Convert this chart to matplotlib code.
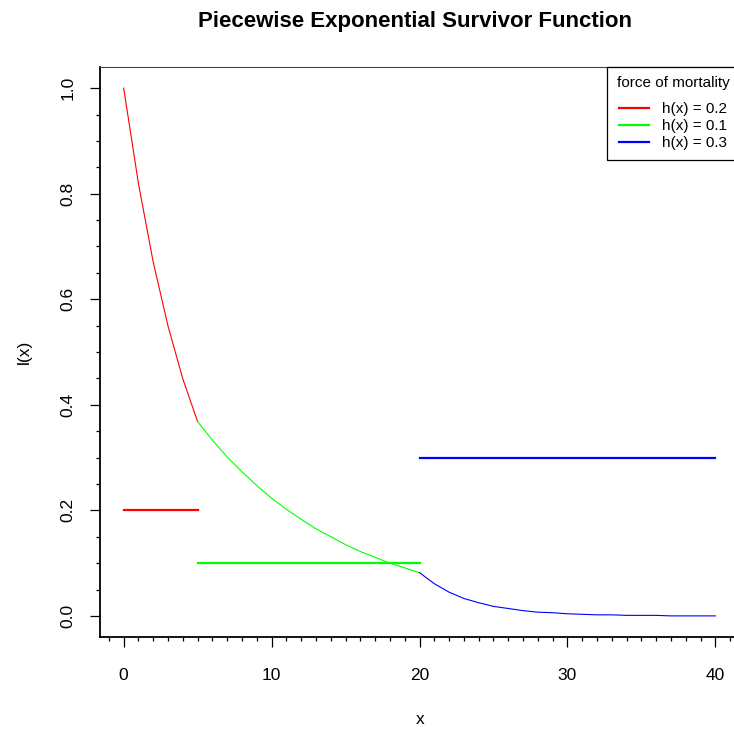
import matplotlib
matplotlib.use("Agg")
import matplotlib.pyplot as plt
from matplotlib.ticker import MultipleLocator

plt.rcParams['font.family'] = ['Liberation Sans', 'DejaVu Sans']

# survivor function l(x), read at whole ages, one piece per hazard
x_red = [0, 1, 2, 3, 4, 5]
l_red = [1.000, 0.819, 0.670, 0.549, 0.449, 0.368]
x_green = [5, 6, 7, 8, 9, 10, 11, 12, 13, 14, 15, 16, 17, 18, 19, 20]
l_green = [0.368, 0.333, 0.301, 0.273, 0.247, 0.223, 0.202, 0.183, 0.165,
           0.150, 0.135, 0.122, 0.111, 0.100, 0.091, 0.082]
x_blue = [20, 21, 22, 23, 24, 25, 26, 27, 28, 29, 30,
          31, 32, 33, 34, 35, 36, 37, 38, 39, 40]
l_blue = [0.082, 0.061, 0.045, 0.033, 0.025, 0.018, 0.014, 0.010, 0.007, 0.006,
          0.004, 0.003, 0.002, 0.002, 0.001, 0.001, 0.001, 0.000, 0.000, 0.000, 0.000]

# force of mortality on each interval
breaks = [0, 5, 20, 40]
hazards = [0.2, 0.1, 0.3]
colors = ['#FF0000', '#00FF00', '#0000FF']
labels = ['h(x) = 0.2', 'h(x) = 0.1', 'h(x) = 0.3']

fig = plt.figure(figsize=(7.34, 7.29), dpi=100)
# plot region runs a bit past the right edge, like the original
ax = fig.add_axes([100 / 734, 92 / 729, 639 / 734, 570 / 729])

for xs, ls, c in zip([x_red, x_green, x_blue], [l_red, l_green, l_blue], colors):
    ax.plot(xs, ls, color=c, lw=0.8)

for i in range(3):
    ax.plot([breaks[i], breaks[i + 1]], [hazards[i], hazards[i]],
            color=colors[i], lw=1.6, label=labels[i])

ax.set_xlim(-1.6, 41.6)
ax.set_ylim(-0.04, 1.04)
ax.xaxis.set_major_locator(MultipleLocator(10))
ax.xaxis.set_minor_locator(MultipleLocator(1))
ax.yaxis.set_major_locator(MultipleLocator(0.2))
ax.yaxis.set_minor_locator(MultipleLocator(0.05))
ax.yaxis.set_major_formatter(plt.FuncFormatter(lambda v, p: f"{v:.1f}"))

ax.tick_params(which='major', length=7.5, width=0.9, labelsize=12.5, direction='out')
ax.tick_params(which='minor', length=3.2, width=0.9, direction='out')
ax.tick_params(axis='x', which='major', pad=15)
ax.tick_params(axis='y', which='major', pad=10)
for t in ax.get_yticklabels():
    t.set_rotation(90)
    t.set_va('center')

for s in ['top', 'right']:
    ax.spines[s].set_color('#444444')
    ax.spines[s].set_linewidth(0.8)
for s in ['left', 'bottom']:
    ax.spines[s].set_linewidth(1.3)

fig.text(415 / 734, 1 - 21 / 729, 'Piecewise Exponential Survivor Function',
         ha='center', va='center', fontsize=16, fontweight='bold')
fig.text(420 / 734, 1 - 720 / 729, 'x', ha='center', va='center', fontsize=12.5)
fig.text(24 / 734, 1 - 352 / 729, 'l(x)', ha='center', va='center',
         rotation=90, fontsize=12.5)

leg = ax.legend(title='force of mortality', loc='upper right',
                bbox_to_anchor=(1, 1), borderaxespad=0, fontsize=11,
                title_fontsize=11, fancybox=False, edgecolor='black',
                framealpha=1, handlelength=2.0, handletextpad=0.85,
                labelspacing=0.2, borderpad=0.62)
leg.get_frame().set_linewidth(0.9)
# a little more room between the legend title and the entries
leg._legend_box.sep = 8.5

fig.savefig('out.png', dpi=100)
